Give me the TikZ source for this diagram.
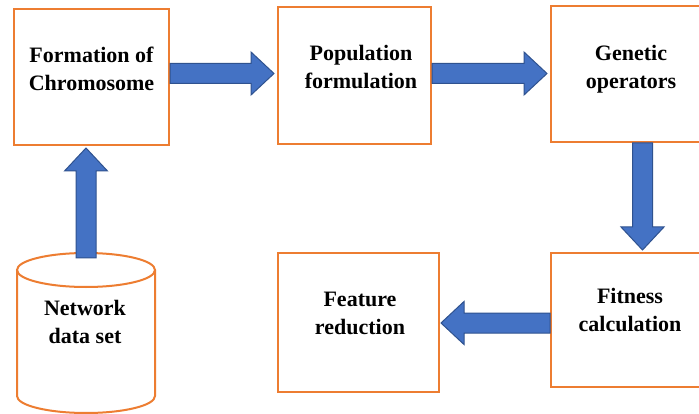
\documentclass[tikz,border=0pt]{standalone}
\usepackage{fontspec}
\setmainfont{Liberation Serif}
\usetikzlibrary{calc}
\definecolor{boxorange}{RGB}{237,125,49}
\definecolor{arrowblue}{RGB}{68,114,196}
\definecolor{arrowedge}{RGB}{47,82,143}
\tikzset{
  box/.style={draw=boxorange, line width=2pt, rectangle, inner sep=0pt},
  lbl/.style={font=\bfseries\fontsize{22}{28}\selectfont, align=center, anchor=north, inner sep=0pt},
  blockarrow/.style={fill=arrowblue, draw=arrowedge, line width=1pt, line join=miter,
    to path={
      let \p1=(\tikztostart), \p2=(\tikztotarget),
          \n1={veclen(\x2-\x1,\y2-\y1)},
          \n2={(\x2-\x1)/\n1}, \n3={(\y2-\y1)/\n1} in
      ({\x1-\n3*10pt},{\y1+\n2*10pt})
      -- ({\x2-\n2*23pt-\n3*10pt},{\y2-\n3*23pt+\n2*10pt})
      -- ({\x2-\n2*23pt-\n3*21.5pt},{\y2-\n3*23pt+\n2*21.5pt})
      -- (\x2,\y2)
      -- ({\x2-\n2*23pt+\n3*21.5pt},{\y2-\n3*23pt-\n2*21.5pt})
      -- ({\x2-\n2*23pt+\n3*10pt},{\y2-\n3*23pt-\n2*10pt})
      -- ({\x1+\n3*10pt},{\y1-\n2*10pt}) -- cycle
    }}
}
\begin{document}
\begin{tikzpicture}[x=1pt,y=-1pt]
\useasboundingbox (0,0) rectangle (699,414);
\fill[white] (0,0) rectangle (699,414);

% boxes
\node[box, minimum width=155pt, minimum height=136pt] (b1) at (91.5,77) {};
\node[box, minimum width=153pt, minimum height=137pt] (b2) at (354.5,75.5) {};
\node[box, minimum width=161pt, minimum height=136pt] (b3) at (631.5,74) {};
\node[box, minimum width=161pt, minimum height=134pt] (b4) at (631.5,320) {};
\node[box, minimum width=161pt, minimum height=139pt] (b5) at (358.5,322.5) {};

% labels
\node[lbl] (t1) at (91.5,47) {Formation of\\Chromosome};
\node[lbl] (t2) at (361,45) {Population\\formulation};
\node[lbl] (t3) at (631,45) {Genetic\\operators};
\node[lbl] (t4) at (630,288) {Fitness\\calculation};
\node[lbl] (t5) at (360,292) {Feature\\reduction};

% cylinder (network data set)
\draw[boxorange, line width=2pt, fill=white]
  (17,270) -- (17,396) arc[start angle=180, end angle=0, x radius=69, y radius=17]
  -- (155,270);
\draw[boxorange, line width=2pt] (86,270) ellipse[x radius=69, y radius=17];
\node[lbl] (t6) at (85,300) {Network\\data set};
\coordinate (cyltop) at (86,258);

% arrow end points
\coordinate (a1s) at ([yshift=3.5pt]b1.east);
\coordinate (a1t) at ([xshift=-3pt]b2.west |- a1s);
\coordinate (a2s) at ([yshift=2pt]b2.east);
\coordinate (a2t) at ([xshift=-3pt]b3.west |- a2s);
\coordinate (a3s) at ([xshift=11pt]b3.south);
\coordinate (a3t) at ([yshift=2pt]b4.north -| a3s);
\coordinate (a4s) at ([yshift=-3pt]b4.west);
\coordinate (a4t) at ([xshift=1pt]b5.east |- a4s);
\coordinate (a5t) at ([yshift=-2pt]b1.south -| cyltop);

% block arrows
\draw[blockarrow] (a1s) to (a1t);
\draw[blockarrow] (a2s) to (a2t);
\draw[blockarrow] (a3s) to (a3t);
\draw[blockarrow] (a4s) to (a4t);
\draw[blockarrow] (cyltop) to (a5t);
\end{tikzpicture}
\end{document}
